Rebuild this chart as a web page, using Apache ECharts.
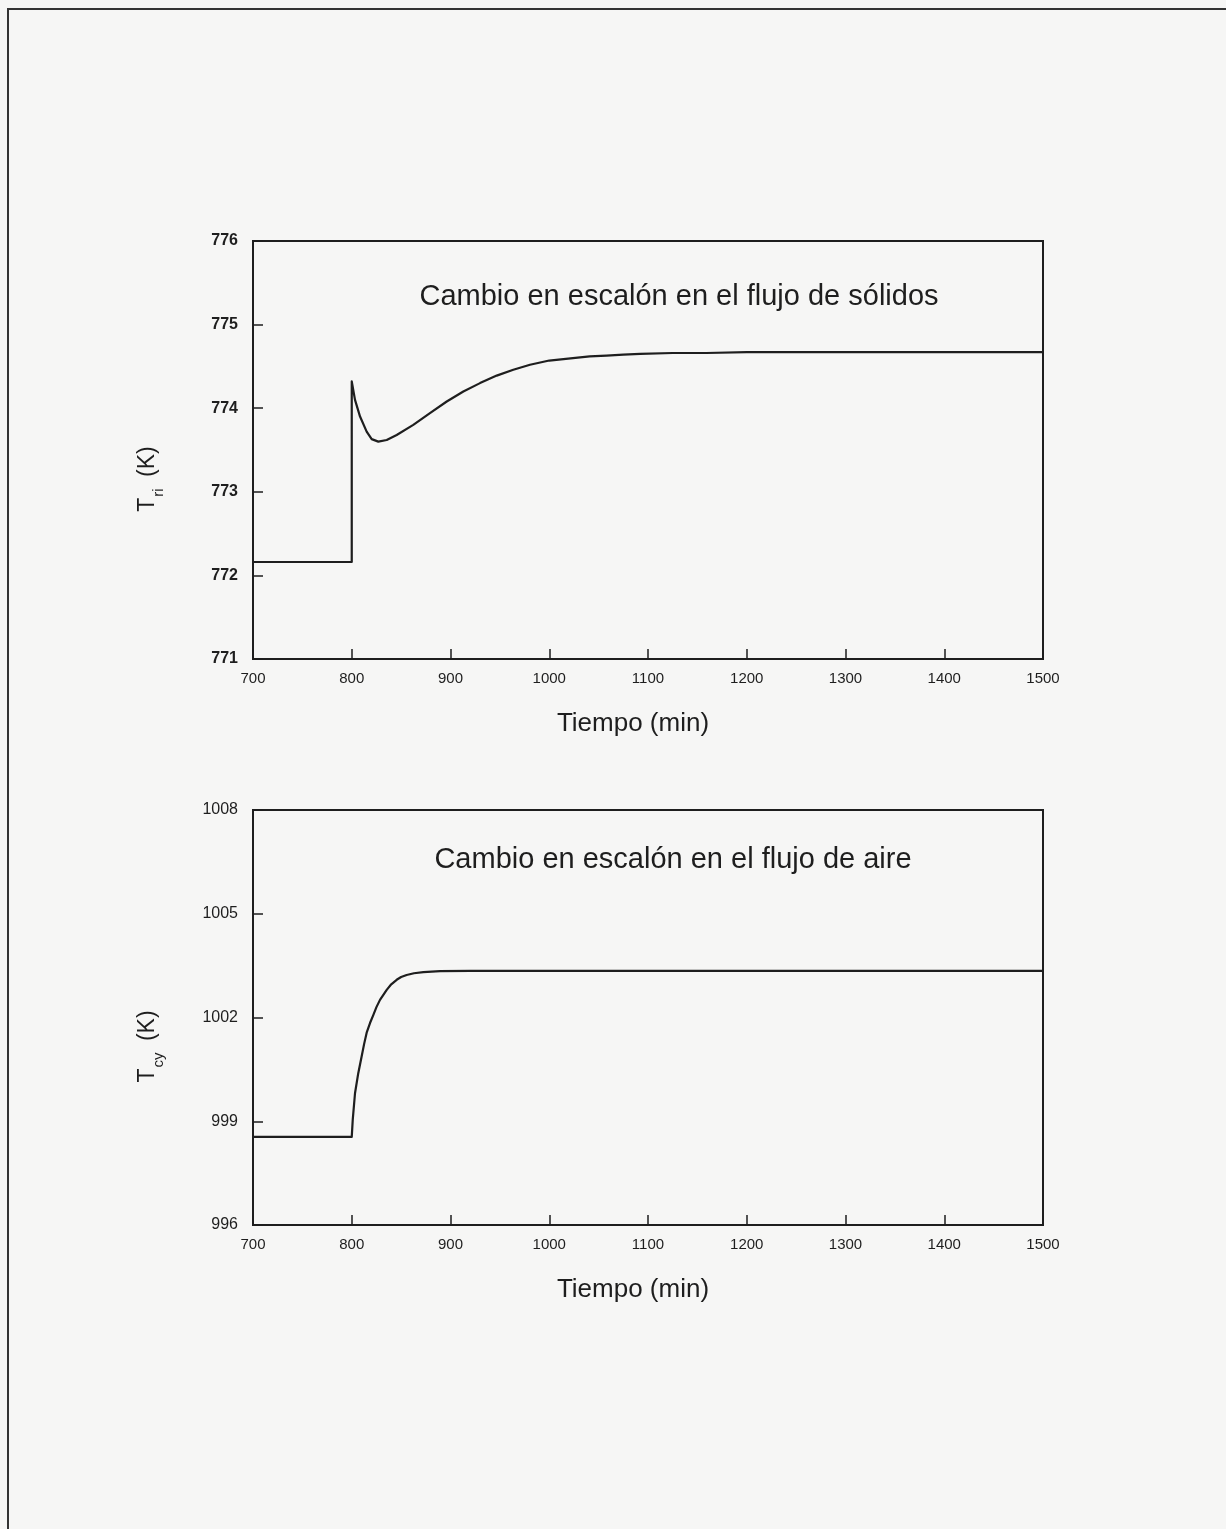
<!DOCTYPE html>
<html>
<head>
<meta charset="utf-8">
<script src="https://cdn.jsdelivr.net/npm/echarts@6/dist/echarts.min.js"></script>
<style>
html,body{margin:0;padding:0;background:#f6f6f5;}
#chart{width:1226px;height:1529px;}
</style>
</head>
<body>
<div id="chart"></div>
<script>
// ---- Data ----
const xTicks = [700, 800, 900, 1000, 1100, 1200, 1300, 1400, 1500];
const title1 = 'Cambio en escalón en el flujo de sólidos';
const title2 = 'Cambio en escalón en el flujo de aire';
const xName = 'Tiempo (min)';

// Panel 1: T_ri (K) response to step in solids flow
const t1 = [700, 800, 800, 803.3, 808.4, 815.1, 820.2, 826.9, 835.4, 845.5, 862.3, 879.2, 896.2, 913, 929.9, 946.8, 963.6, 980.5, 1000, 1024, 1041, 1058, 1075, 1092, 1125, 1159, 1200, 1250, 1294, 1400, 1500];
const v1 = [772.16, 772.16, 774.32, 774.10, 773.90, 773.72, 773.63, 773.60, 773.62, 773.68, 773.80, 773.94, 774.08, 774.20, 774.30, 774.39, 774.46, 774.52, 774.57, 774.60, 774.62, 774.63, 774.64, 774.65, 774.66, 774.66, 774.67, 774.67, 774.67, 774.67, 774.67];

// Panel 2: T_cy (K) response to step in air flow
const t2 = [700, 800, 801, 803.3, 806.6, 810, 812.5, 815.1, 818.5, 821.8, 825, 828.6, 835.4, 840, 845.5, 850, 855.6, 863, 872.5, 889.4, 920, 1000, 1100, 1200, 1300, 1400, 1500];
const v2 = [998.55, 998.55, 999.04, 999.81, 1000.39, 1000.87, 1001.23, 1001.56, 1001.84, 1002.07, 1002.30, 1002.51, 1002.80, 1002.96, 1003.09, 1003.17, 1003.23, 1003.28, 1003.31, 1003.34, 1003.35, 1003.35, 1003.35, 1003.35, 1003.35, 1003.35, 1003.35];

const y1Min = 771, y1Max = 776, y1Step = 1;
const y2Min = 996, y2Max = 1008, y2Step = 3;

const pair = (xs, ys) => xs.map((x, i) => [x, ys[i]]);

const ink = '#1e1e1e';
const font = 'Liberation Sans, Arial, sans-serif';

function xAxisCfg(gi) {
  return {
    type: 'value', gridIndex: gi, min: xTicks[0], max: xTicks[xTicks.length - 1], interval: 100,
    name: xName, nameLocation: 'middle', nameGap: 52,
    nameTextStyle: { fontFamily: font, fontSize: 26, color: ink, padding: [0, 30, 0, 0] },
    axisLine: { show: true, lineStyle: { color: ink, width: 2 } },
    axisTick: { show: true, inside: true, length: 10, lineStyle: { color: ink, width: 1.5 } },
    axisLabel: { fontFamily: font, fontSize: 15, color: ink, margin: 12,
      showMinLabel: true, showMaxLabel: true, formatter: v => String(v) },
    splitLine: { show: false }
  };
}
function yAxisCfg(gi, min, max, step, sub, bold) {
  return {
    type: 'value', gridIndex: gi, min: min, max: max, interval: step,
    name: '{t|T}{s|' + sub + '}{t| (K)}', nameLocation: 'middle', nameGap: 87, nameRotate: 90,
    nameTextStyle: {
      fontFamily: font, color: ink, padding: [0, 58, 0, 0],
      rich: {
        t: { fontFamily: font, fontSize: 23, color: ink, lineHeight: 36, verticalAlign: 'middle' },
        s: { fontFamily: font, fontSize: 15, color: ink, lineHeight: 36, verticalAlign: 'bottom', padding: [0, 5, 0, 1] }
      }
    },
    axisLine: { show: true, lineStyle: { color: ink, width: 2 } },
    axisTick: { show: true, inside: true, length: 10, lineStyle: { color: ink, width: 1.5 } },
    axisLabel: { fontFamily: font, fontSize: 16, fontWeight: bold ? 'bold' : 'normal', color: ink, margin: 15,
      formatter: v => String(v) },
    splitLine: { show: false }
  };
}

const chart = echarts.init(document.getElementById('chart'), null, { renderer: 'canvas' });
chart.setOption({
  backgroundColor: '#f6f6f5',
  animation: false,
  title: [
    { text: title1, left: 674, top: 277, textAlign: 'center',
      textStyle: { fontFamily: font, fontSize: 29, fontWeight: 'normal', color: ink } },
    { text: title2, left: 668, top: 840, textAlign: 'center',
      textStyle: { fontFamily: font, fontSize: 29, fontWeight: 'normal', color: ink } }
  ],
  grid: [
    { left: 253, top: 241, width: 790, height: 418, show: true, borderColor: ink, borderWidth: 2, backgroundColor: 'transparent' },
    { left: 253, top: 810, width: 790, height: 415, show: true, borderColor: ink, borderWidth: 2, backgroundColor: 'transparent' }
  ],
  xAxis: [xAxisCfg(0), xAxisCfg(1)],
  yAxis: [yAxisCfg(0, y1Min, y1Max, y1Step, 'ri', true), yAxisCfg(1, y2Min, y2Max, y2Step, 'cy', false)],
  series: [
    { type: 'line', xAxisIndex: 0, yAxisIndex: 0, data: pair(t1, v1), showSymbol: false, smooth: false,
      lineStyle: { color: ink, width: 2.2, join: 'round' } },
    { type: 'line', xAxisIndex: 1, yAxisIndex: 1, data: pair(t2, v2), showSymbol: false, smooth: false,
      lineStyle: { color: ink, width: 2.2, join: 'round' } }
  ],
  graphic: [
    { type: 'polyline', silent: true,
      shape: { points: [[8, 1529], [8, 9], [1226, 9]] },
      style: { stroke: '#333', lineWidth: 2, fill: null } }
  ]
});
</script>
</body>
</html>
